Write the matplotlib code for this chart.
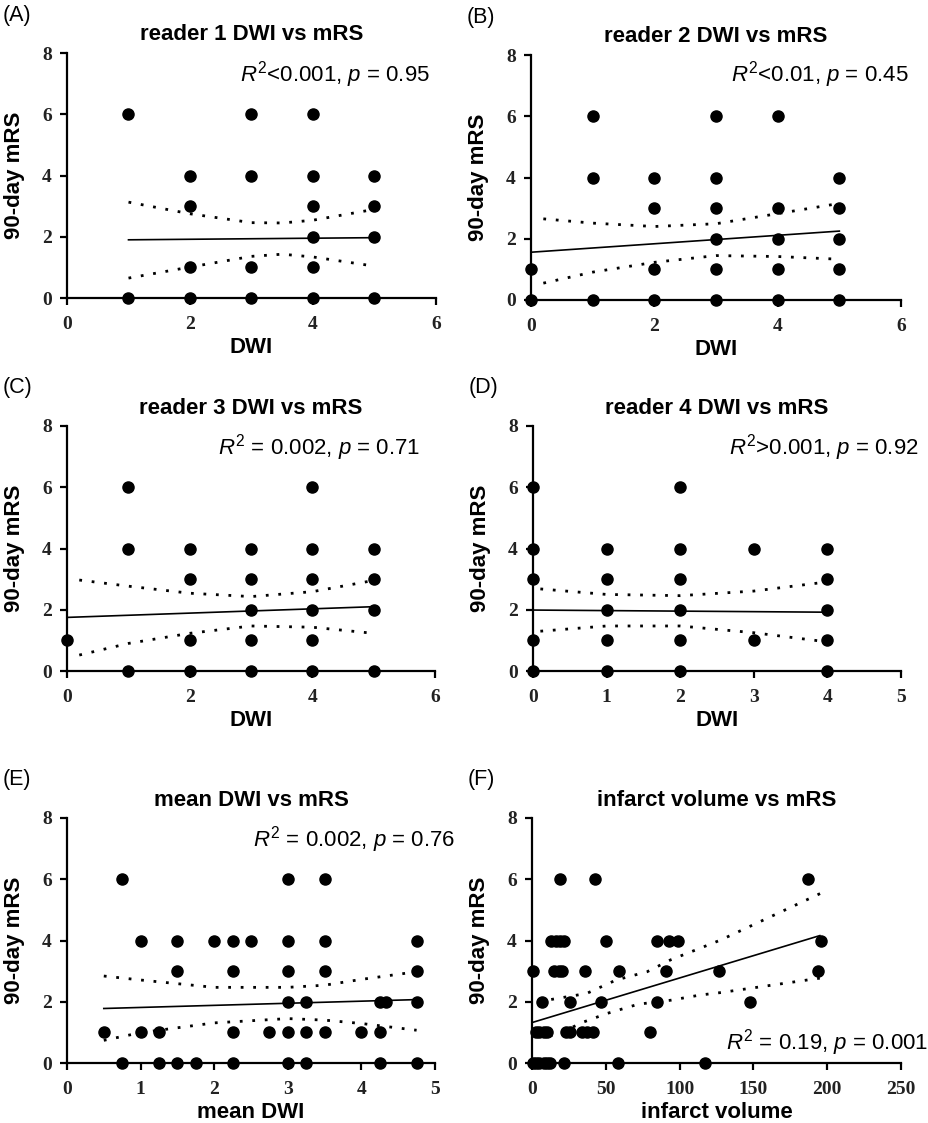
import matplotlib.pyplot as plt

plt.rcParams['font.family'] = 'Liberation Sans'
plt.rcParams['mathtext.fontset'] = 'custom'
plt.rcParams['mathtext.rm'] = 'Liberation Sans'
plt.rcParams['mathtext.it'] = 'Liberation Sans:italic'

W, H = 929, 1123

# (A) reader 1
a_x = [1, 1, 2, 2, 2, 2, 3, 3, 3, 3, 4, 4, 4, 4, 4, 4, 5, 5, 5, 5]
a_y = [6, 0, 4, 3, 1, 0, 6, 4, 1, 0, 6, 4, 3, 2, 1, 0, 4, 3, 2, 0]
a_fit_x = [1, 5]
a_fit_y = [1.90, 1.97]
a_band_x = [1, 2, 3, 3.5, 4, 4.9]
a_upper = [3.13, 2.75, 2.46, 2.45, 2.54, 2.86]
a_lower = [0.65, 1.01, 1.36, 1.43, 1.34, 1.07]

# (B) reader 2
b_x = [0, 0, 1, 1, 1, 2, 2, 2, 2, 3, 3, 3, 3, 3, 3, 4, 4, 4, 4, 4, 5, 5, 5, 5, 5]
b_y = [1, 0, 6, 4, 0, 4, 3, 1, 0, 6, 4, 3, 2, 1, 0, 6, 3, 2, 1, 0, 4, 3, 2, 1, 0]
b_fit_x = [0, 5]
b_fit_y = [1.56, 2.25]
b_band_x = [0.2, 1, 2, 3, 4, 4.9]
b_upper = [2.65, 2.51, 2.40, 2.49, 2.82, 3.12]
b_lower = [0.55, 0.91, 1.23, 1.45, 1.42, 1.34]

# (C) reader 3
c_x = [0, 1, 1, 1, 2, 2, 2, 2, 3, 3, 3, 3, 3, 4, 4, 4, 4, 4, 4, 5, 5, 5, 5]
c_y = [1, 6, 4, 0, 4, 3, 1, 0, 4, 3, 2, 1, 0, 6, 4, 3, 2, 1, 0, 4, 3, 2, 0]
c_fit_x = [0, 5]
c_fit_y = [1.75, 2.10]
c_band_x = [0.2, 1, 2, 3, 4, 4.9]
c_upper = [2.97, 2.77, 2.54, 2.43, 2.59, 2.92]
c_lower = [0.52, 0.90, 1.23, 1.47, 1.43, 1.25]

# (D) reader 4
d_x = [0, 0, 0, 0, 0, 1, 1, 1, 1, 1, 2, 2, 2, 2, 2, 2, 3, 3, 4, 4, 4, 4, 4]
d_y = [6, 4, 3, 1, 0, 4, 3, 2, 1, 0, 6, 4, 3, 2, 1, 0, 4, 1, 4, 3, 2, 1, 0]
d_fit_x = [0, 4]
d_fit_y = [1.99, 1.92]
d_band_x = [0.1, 1, 2, 3, 3.9]
d_upper = [2.68, 2.50, 2.46, 2.61, 2.88]
d_lower = [1.30, 1.47, 1.47, 1.25, 0.98]

# (E) mean DWI
e_x = [0.75, 3.0, 3.5,
       1.0, 1.5, 2.0, 2.25, 2.5, 3.0, 3.5, 4.75,
       1.5, 2.25, 3.0, 3.5, 4.75,
       3.0, 3.25, 4.25, 4.33, 4.75,
       0.5, 1.0, 1.25, 2.25, 2.75, 3.0, 3.25, 3.5, 4.0, 4.25,
       0.75, 1.25, 1.5, 1.75, 2.25, 3.0, 3.25, 4.25, 4.75]
e_y = [6, 6, 6,
       4, 4, 4, 4, 4, 4, 4, 4,
       3, 3, 3, 3, 3,
       2, 2, 2, 2, 2,
       1, 1, 1, 1, 1, 1, 1, 1, 1, 1,
       0, 0, 0, 0, 0, 0, 0, 0, 0]
e_fit_x = [0.5, 4.75]
e_fit_y = [1.78, 2.07]
e_band_x = [0.5, 1, 2, 3, 3.5, 4, 4.75]
e_upper = [2.84, 2.71, 2.47, 2.47, 2.54, 2.73, 2.98]
e_lower = [0.74, 0.99, 1.31, 1.45, 1.40, 1.29, 1.07]

# (F) infarct volume
f_x = [19, 43, 187,
       13, 16, 19, 22, 50, 85, 93, 99, 196,
       1, 15, 18, 20, 36, 59, 91, 127, 194,
       7, 26, 47, 85, 148,
       3, 5, 8, 10, 23, 26, 34, 37, 41, 80,
       1, 3, 5, 8, 10, 12, 22, 58, 117]
f_y = [6, 6, 6,
       4, 4, 4, 4, 4, 4, 4, 4, 4,
       3, 3, 3, 3, 3, 3, 3, 3, 3,
       2, 2, 2, 2, 2,
       1, 1, 1, 1, 1, 1, 1, 1, 1, 1,
       0, 0, 0, 0, 0, 0, 0, 0, 0]
f_fit_x = [0, 195]
f_fit_y = [1.32, 4.16]
f_upper_x = [5, 10, 37, 57, 78, 94, 114, 128, 196]
f_upper = [1.95, 2.05, 2.27, 2.71, 2.98, 3.37, 3.75, 4.02, 5.55]
f_lower_x = [12, 19, 35, 51, 72, 94, 114, 128, 195]
f_lower = [0.88, 0.98, 1.34, 1.62, 1.92, 2.05, 2.22, 2.30, 2.77]

panels = [
    dict(tag='(A)', title='reader 1 DWI vs mRS', xlabel='DWI', x=a_x, y=a_y,
         fx=a_fit_x, fy=a_fit_y, ux=a_band_x, u=a_upper, lx=a_band_x, lo=a_lower,
         xmax=6, xticks=[0, 2, 4, 6], rect=(67, 53, 436, 298),
         note=r'$R^2$<0.001, $p$ = 0.95', note_xy=(430, 75)),
    dict(tag='(B)', title='reader 2 DWI vs mRS', xlabel='DWI', x=b_x, y=b_y,
         fx=b_fit_x, fy=b_fit_y, ux=b_band_x, u=b_upper, lx=b_band_x, lo=b_lower,
         xmax=6, xticks=[0, 2, 4, 6], rect=(531, 55, 901, 300),
         note=r'$R^2$<0.01, $p$ = 0.45', note_xy=(909, 75)),
    dict(tag='(C)', title='reader 3 DWI vs mRS', xlabel='DWI', x=c_x, y=c_y,
         fx=c_fit_x, fy=c_fit_y, ux=c_band_x, u=c_upper, lx=c_band_x, lo=c_lower,
         xmax=6, xticks=[0, 2, 4, 6], rect=(67, 426, 435, 671),
         note=r'$R^2$ = 0.002, $p$ = 0.71', note_xy=(420, 448)),
    dict(tag='(D)', title='reader 4 DWI vs mRS', xlabel='DWI', x=d_x, y=d_y,
         fx=d_fit_x, fy=d_fit_y, ux=d_band_x, u=d_upper, lx=d_band_x, lo=d_lower,
         xmax=5, xticks=[0, 1, 2, 3, 4, 5], rect=(533, 426, 901, 671),
         note=r'$R^2$>0.001, $p$ = 0.92', note_xy=(919, 448)),
    dict(tag='(E)', title='mean DWI vs mRS', xlabel='mean DWI', x=e_x, y=e_y,
         fx=e_fit_x, fy=e_fit_y, ux=e_band_x, u=e_upper, lx=e_band_x, lo=e_lower,
         xmax=5, xticks=[0, 1, 2, 3, 4, 5], rect=(67, 818, 435, 1063),
         note=r'$R^2$ = 0.002, $p$ = 0.76', note_xy=(455, 840)),
    dict(tag='(F)', title='infarct volume vs mRS', xlabel='infarct volume', x=f_x, y=f_y,
         fx=f_fit_x, fy=f_fit_y, ux=f_upper_x, u=f_upper, lx=f_lower_x, lo=f_lower,
         xmax=250, xticks=[0, 50, 100, 150, 200, 250], rect=(532, 818, 901, 1063),
         note=r'$R^2$ = 0.19, $p$ = 0.001', note_xy=(928, 1043)),
]

fig = plt.figure(figsize=(W / 100, H / 100), dpi=100)

for p in panels:
    l, t, r, b = p['rect']
    ax = fig.add_axes([l / W, 1 - b / H, (r - l) / W, (b - t) / H])
    ax.scatter(p['x'], p['y'], s=64, color='black', zorder=3, clip_on=False)
    ax.plot(p['fx'], p['fy'], color='black', lw=1.2, zorder=2)
    ax.plot(p['ux'], p['u'], color='black', lw=2.0, ls=(0, (1, 3.5)), zorder=2)
    ax.plot(p['lx'], p['lo'], color='black', lw=2.0, ls=(0, (1, 3.5)), zorder=2)

    ax.set_xlim(0, p['xmax'])
    ax.set_ylim(0, 8)
    ax.set_xticks(p['xticks'])
    ax.set_yticks([0, 2, 4, 6, 8])
    for side in ('top', 'right'):
        ax.spines[side].set_visible(False)
    for side in ('left', 'bottom'):
        ax.spines[side].set_linewidth(1.6)
    ax.tick_params(direction='out', length=5, width=1.6)
    ax.tick_params(axis='x', pad=8)
    ax.tick_params(axis='y', pad=6)
    for lab in ax.get_xticklabels() + ax.get_yticklabels():
        lab.set_fontfamily('Liberation Serif')
        lab.set_fontweight('bold')
        lab.set_fontsize(14)
        lab.set_color('#222222')

    ax.set_title(p['title'], fontsize=16, fontweight='bold', pad=9)
    ax.set_xlabel(p['xlabel'], fontsize=16, fontweight='bold')
    ax.set_ylabel('90-day mRS', fontsize=16, fontweight='bold', va='center')
    ax.xaxis.set_label_coords(0.5, -0.16)
    ax.yaxis.set_label_coords(-0.143, 0.5)

    nx, ny = p['note_xy']
    fig.text(nx / W, 1 - ny / H, p['note'], fontsize=16, ha='right', va='center')
    fig.text((l - 64) / W, 1 - (t - 38) / H, p['tag'], fontsize=15.5, ha='left', va='center')

fig.savefig('out.png', dpi=100, facecolor='white')
